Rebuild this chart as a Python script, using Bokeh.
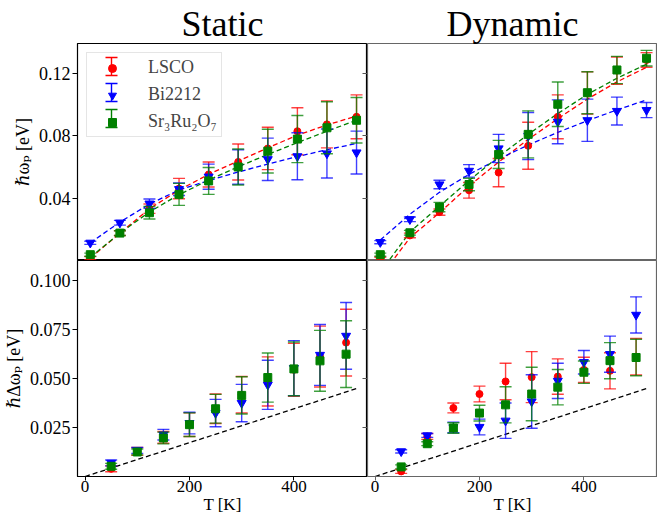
from bokeh.plotting import figure
from bokeh.models import (ColumnDataSource, Range1d, FixedTicker, LinearAxis, Legend,
                          LegendItem, Whisker, TeeHead, NumeralTickFormatter)
from bokeh.layouts import column, row
from bokeh.embed import file_html
from bokeh.resources import INLINE

# ---------------- data ----------------
T_TOP = [10, 66.7, 123.3, 180, 236.7, 293.3, 350, 406.7, 463.3, 520]
T_BOT = [50, 100, 150, 200, 250, 300, 350, 400, 450, 500]

# static plasma frequency (eV)
LSCO_WP_S = [0.002, 0.018, 0.0336, 0.0464, 0.0554, 0.0634, 0.072, 0.083, 0.0874, 0.0922]
LSCO_WP_S_ERR = [0.001, 0.0015, 0.003, 0.0065, 0.008, 0.0115, 0.0135, 0.015, 0.015, 0.014]
BI_WP_S = [0.0118, 0.0246, 0.0368, 0.046, 0.054, 0.0602, 0.0651, 0.067, 0.0688, 0.0694]
BI_WP_S_ERR = [0.001, 0.0015, 0.003, 0.004, 0.008, 0.011, 0.0135, 0.015, 0.0156, 0.0137]
GR_WP_S = [0.0042, 0.018, 0.031, 0.0427, 0.0513, 0.0602, 0.0703, 0.078, 0.0852, 0.090]
GR_WP_S_ERR = [0.001, 0.0015, 0.004, 0.007, 0.0086, 0.0115, 0.014, 0.015, 0.0166, 0.0145]

# dynamic plasma frequency (eV)
LSCO_WP_D = [0.0016, 0.0165, 0.0314, 0.0453, 0.0566, 0.0737, 0.0922, 0.1074, 0.1217, 0.1285]
LSCO_WP_D_ERR = [0.001, 0.0015, 0.002, 0.005, 0.009, 0.015, 0.014, 0.0135, 0.0087, 0.0047]
BI_WP_D = [0.0122, 0.0268, 0.049, 0.0577, 0.072, 0.080, 0.089, 0.090, 0.0959, 0.0965]
BI_WP_D_ERR = [0.001, 0.0015, 0.0027, 0.004, 0.009, 0.015, 0.014, 0.0135, 0.0089, 0.0048]
GR_WP_D = [0.0042, 0.0182, 0.0346, 0.049, 0.0682, 0.081, 0.1002, 0.1076, 0.1221, 0.1296]
GR_WP_D_ERR = [0.001, 0.0015, 0.003, 0.004, 0.009, 0.015, 0.0142, 0.0134, 0.0087, 0.005]

# fitted curves (dashed), read on the T_TOP grid
LSCO_FIT_S = [0.002, 0.018, 0.0335, 0.0455, 0.0555, 0.064, 0.0724, 0.0805, 0.087, 0.0927]
BI_FIT_S = [0.0118, 0.025, 0.0365, 0.0455, 0.0515, 0.057, 0.062, 0.0668, 0.0712, 0.0752]
GR_FIT_S = [0.0025, 0.018, 0.0315, 0.0425, 0.0518, 0.0603, 0.0682, 0.0757, 0.083, 0.090]
LSCO_FIT_D = [-0.010, 0.015, 0.031, 0.048, 0.0634, 0.0778, 0.091, 0.1035, 0.1145, 0.1238]
BI_FIT_D = [0.0136, 0.030, 0.044, 0.0555, 0.0653, 0.0742, 0.0823, 0.0897, 0.0966, 0.103]
GR_FIT_D = [-0.007, 0.0186, 0.0352, 0.0515, 0.0668, 0.081, 0.0943, 0.1065, 0.1168, 0.1258]

# static width (eV)
LSCO_DW_S = [0.0039, 0.0128, 0.0199, 0.0264, 0.0345, 0.0416, 0.0484, 0.0543, 0.0611, 0.0682]
LSCO_DW_S_ERR = [0.0015, 0.002, 0.003, 0.006, 0.0075, 0.0093, 0.0125, 0.0135, 0.0155, 0.017]
BI_DW_S = [0.0069, 0.0133, 0.0213, 0.0272, 0.0323, 0.0374, 0.0467, 0.0552, 0.0619, 0.0716]
BI_DW_S_ERR = [0.0015, 0.0015, 0.0027, 0.0055, 0.007, 0.0095, 0.0125, 0.014, 0.0155, 0.017]
GR_DW_S = [0.0052, 0.0125, 0.0196, 0.0264, 0.0345, 0.0413, 0.0504, 0.0548, 0.0589, 0.0623]
GR_DW_S_ERR = [0.0015, 0.0015, 0.003, 0.006, 0.0073, 0.0095, 0.0125, 0.0137, 0.0155, 0.017]

# dynamic width (eV)
LSCO_DW_D = [0.0026, 0.0204, 0.0349, 0.042, 0.0484, 0.0506, 0.0509, 0.0543, 0.0538, 0.061]
LSCO_DW_D_ERR = [0.001, 0.0015, 0.0025, 0.004, 0.0093, 0.013, 0.009, 0.0064, 0.0092, 0.0093]
BI_DW_D = [0.0128, 0.0209, 0.025, 0.0252, 0.0284, 0.0382, 0.0487, 0.0582, 0.0623, 0.0823]
BI_DW_D_ERR = [0.0008, 0.001, 0.0027, 0.004, 0.009, 0.0136, 0.009, 0.006, 0.0092, 0.0092]
GR_DW_D = [0.0049, 0.0167, 0.0247, 0.0323, 0.0365, 0.042, 0.0455, 0.0531, 0.059, 0.0606]
GR_DW_D_ERR = [0.001, 0.001, 0.0027, 0.004, 0.0092, 0.0136, 0.009, 0.0057, 0.0092, 0.0093]

# k_B T reference line
T_KT = [0, 520]
KT_EV = [0.0, 0.0448]

SERIES_NAMES = ["LSCO", "Bi2212", "Sr\u2083Ru\u2082O\u2087"]
COLORS = ["#ff0000", "#0000ff", "#008000"]
MARKERS = ["circle", "inverted_triangle", "square"]
SIZES = [7, 9, 8]

X_TICKS = [0, 200, 400]
Y_TICKS_TOP = [0.04, 0.08, 0.12]
Y_TICKS_BOT = [0.025, 0.050, 0.075, 0.100]
TITLES = ["Static", "Dynamic"]
YLABELS = ["\u210f\u03c9\u209a [eV]", "\u210f\u0394\u03c9\u209a [eV]"]
XLABEL = "T [K]"

FONT = "'Liberation Serif', 'DejaVu Serif', serif"
X_RANGE = (-14.5, 541)
Y_RANGE_TOP = (0.0005, 0.139)
Y_RANGE_BOT = (0.0, 0.110)


def style_axis(ax, color="black", size="18px"):
    ax.major_tick_out = 5
    ax.major_tick_in = 0
    ax.minor_tick_line_color = None
    ax.major_tick_line_color = color
    ax.axis_line_color = color
    ax.major_label_text_font = FONT
    ax.major_label_text_font_size = size
    ax.major_label_text_color = "black"
    ax.major_label_standoff = 2
    ax.axis_label_text_font = FONT
    ax.axis_label_text_font_size = size
    ax.axis_label_text_font_style = "normal"
    ax.axis_label_text_color = "black"


def inward_right_axis(p, ticks):
    ax = LinearAxis(ticker=FixedTicker(ticks=ticks), major_tick_in=5, major_tick_out=0,
                    minor_tick_line_color=None,
                    major_label_overrides={t: "" for t in ticks},
                    major_label_standoff=0, axis_line_color=None,
                    major_tick_line_color="#555555")
    p.add_layout(ax, "right")


def make_fig(width, height, left, top, bottom, yr, has_x, has_y, outline):
    p = figure(width=width, height=height, x_range=Range1d(*X_RANGE), y_range=Range1d(*yr),
               output_backend="svg", toolbar_location=None,
               x_axis_location="below" if has_x else None,
               y_axis_location="left" if has_y else None,
               min_border_left=left, min_border_right=0, min_border_top=top,
               min_border_bottom=bottom)
    p.grid.visible = False
    p.outline_line_color = outline
    p.outline_line_width = 1.2
    p.background_fill_color = "white"
    p.border_fill_color = "white"
    return p


def add_series(p, T, y, err, color, marker, size):
    src = ColumnDataSource(dict(x=T, y=y,
                                lo=[a - b for a, b in zip(y, err)],
                                hi=[a + b for a, b in zip(y, err)]))
    p.segment(x0="x", y0="lo", x1="x", y1="hi", source=src, line_color=color,
              line_width=1.4, line_alpha=0.75)
    for col in ("lo", "hi"):
        p.scatter(x="x", y=col, source=src, marker="dash", size=12, line_color=color,
                  line_width=1.4, line_alpha=0.75)
    return p.scatter(x="x", y="y", source=src, marker=marker, size=size,
                     fill_color=color, line_color=color)


def add_fit(p, T, y, color):
    p.line(T, y, line_color=color, line_width=1.3, line_dash="5 3")


# ---------------- figures ----------------
p1 = make_fig(367, 260, 77, 43, 0, Y_RANGE_TOP, False, True, "black")
p2 = make_fig(290, 260, 0, 43, 0, Y_RANGE_TOP, False, False, "#666666")
p3 = make_fig(367, 256, 77, 0, 39, Y_RANGE_BOT, True, True, "black")
p4 = make_fig(290, 256, 0, 0, 39, Y_RANGE_BOT, True, False, "#666666")

for p, t in ((p1, TITLES[0]), (p2, TITLES[1])):
    p.title.text = t
    p.title.align = "center"
    p.title.text_font = FONT
    p.title.text_font_size = "36px"
    p.title.text_font_style = "normal"
    p.title.text_color = "black"
    p.title.standoff = 0

for p in (p1, p3):
    style_axis(p.yaxis[0])
for p in (p3, p4):
    ax = p.xaxis[0]
    style_axis(ax, "black" if p is p3 else "#666666", "17px")
    ax.ticker = FixedTicker(ticks=X_TICKS)
    ax.major_tick_out = 4
    ax.major_label_standoff = 0
    ax.axis_label = XLABEL
    ax.axis_label_standoff = 0

p1.yaxis[0].ticker = FixedTicker(ticks=Y_TICKS_TOP)
p1.yaxis[0].formatter = NumeralTickFormatter(format="0.00")
p1.yaxis[0].axis_label = YLABELS[0]
p1.yaxis[0].axis_label_standoff = 3
p3.yaxis[0].ticker = FixedTicker(ticks=Y_TICKS_BOT)
p3.yaxis[0].formatter = NumeralTickFormatter(format="0.000")
p3.yaxis[0].axis_label = YLABELS[1]
p3.yaxis[0].axis_label_standoff = 3

inward_right_axis(p1, Y_TICKS_TOP)
inward_right_axis(p3, Y_TICKS_BOT)

# fits
for p, fits in ((p1, (LSCO_FIT_S, BI_FIT_S, GR_FIT_S)), (p2, (LSCO_FIT_D, BI_FIT_D, GR_FIT_D))):
    for f, c in zip(fits, COLORS):
        add_fit(p, T_TOP, f, c)
for p in (p3, p4):
    p.line(T_KT, KT_EV, line_color="black", line_width=1.3, line_dash="5 3")

panels = [
    (p1, T_TOP, [(LSCO_WP_S, LSCO_WP_S_ERR), (BI_WP_S, BI_WP_S_ERR), (GR_WP_S, GR_WP_S_ERR)]),
    (p2, T_TOP, [(LSCO_WP_D, LSCO_WP_D_ERR), (BI_WP_D, BI_WP_D_ERR), (GR_WP_D, GR_WP_D_ERR)]),
    (p3, T_BOT, [(LSCO_DW_S, LSCO_DW_S_ERR), (BI_DW_S, BI_DW_S_ERR), (GR_DW_S, GR_DW_S_ERR)]),
    (p4, T_BOT, [(LSCO_DW_D, LSCO_DW_D_ERR), (BI_DW_D, BI_DW_D_ERR), (GR_DW_D, GR_DW_D_ERR)]),
]
legend_renderers = []
for p, T, ser in panels:
    rs = []
    for (y, e), c, m, s in zip(ser, COLORS, MARKERS, SIZES):
        rs.append(add_series(p, T, y, e, c, m, s))
    if p is p1:
        legend_renderers = rs

# legend error-bar icons (screen units, aligned with legend glyph slots)
ICON_X = 34
ICON_Y = [194, 168, 142]
for yc, c in zip(ICON_Y, COLORS):
    src = ColumnDataSource(dict(b=[ICON_X], lo=[yc - 9], hi=[yc + 9]))
    w = Whisker(source=src, base="b", lower="lo", upper="hi", dimension="height",
                base_units="screen", lower_units="screen", upper_units="screen",
                line_color=c, line_width=1.4,
                upper_head=TeeHead(size=12, line_color=c, line_width=1.4),
                lower_head=TeeHead(size=12, line_color=c, line_width=1.4))
    p1.add_layout(w)

legend = Legend(items=[LegendItem(label=n, renderers=[r]) for n, r in zip(SERIES_NAMES, legend_renderers)],
                location="top_left", margin=9, padding=4, spacing=6, glyph_width=42,
                glyph_height=20, label_height=20, label_standoff=15,
                label_text_font=FONT, label_text_font_size="18px",
                border_line_color="#cccccc", border_line_width=1,
                background_fill_alpha=0.0)
p1.add_layout(legend)

layout = column(row(p1, p2), row(p3, p4))
open("out.html", "w").write(file_html(layout, INLINE))
